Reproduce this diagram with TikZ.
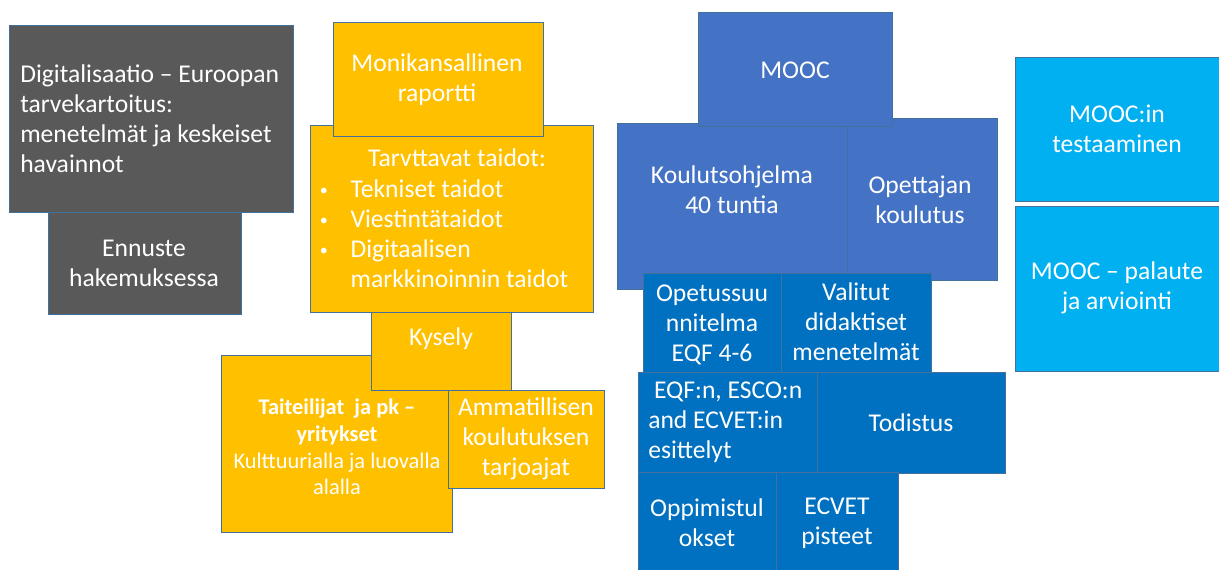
\documentclass[tikz,border=0pt]{standalone}
\usepackage{fontspec}
\setmainfont{Carlito}
\definecolor{darkgrey}{HTML}{595959}
\definecolor{gold}{HTML}{FFC000}
\definecolor{midblue}{HTML}{4472C4}
\definecolor{deepblue}{HTML}{0070C0}
\definecolor{skyblue}{HTML}{00B0F0}
\definecolor{edge}{HTML}{41719C}
\newcommand{\dotitem}{\makebox[25pt][l]{\hspace{2pt}\raisebox{0.15ex}{\fontsize{12}{12}\selectfont •}}}
\tikzset{
  box/.style={draw=edge, line width=0.6pt},
  txt/.style={text=white, inner sep=0pt, align=center, font=\fontsize{19.2}{22.5}\selectfont},
  smalltxt/.style={txt, font=\fontsize{16.8}{20}\selectfont},
}

\begin{document}
\begin{tikzpicture}[x=0.75pt,y=-0.75pt]
\useasboundingbox (0,0) rectangle (1219,570);
\fill[white] (0,0) rectangle (1219,570);

\filldraw[box, fill=darkgrey] (48,212) rectangle (241,314);
\node[txt] (ennuste) at (144,263) {Ennuste\\hakemuksessa};
\filldraw[box, fill=darkgrey] (9,25) rectangle (293,212);
\node[txt, anchor=west, align=left] (digi) at (20,119) {Digitalisaatio -- Euroopan\\tarvekartoitus:\\menetelmät ja keskeiset\\havainnot};

\filldraw[box, fill=gold] (310,125) rectangle (593,312);
\node[txt] (taidot) at (457,158) {Tarvttavat taidot:};
\node[txt, anchor=west, align=left] (lista) at (317,234) {\dotitem Tekniset taidot\\\dotitem Viestintätaidot\\\dotitem Digitaalisen\\\makebox[25pt][l]{}markkinoinnin taidot};
\filldraw[box, fill=gold] (333,22) rectangle (543,136);
\node[txt] (raportti) at (437,80) {Monikansallinen\\raportti};
\filldraw[box, fill=gold] (221,355) rectangle (452,532);
\node[smalltxt] (taiteilijat) at (337,447) {\textbf{Taiteilijat\ \ ja pk --}\\\textbf{yritykset}\\Kulttuurialla ja luovalla\\alalla};
\filldraw[box, fill=gold] (371,312) rectangle (511,390);
\node[txt] (kysely) at (441,339) {Kysely};
\filldraw[box, fill=gold] (448,390) rectangle (604,488);
\node[txt] (ammat) at (526,439) {Ammatillisen\\koulutuksen\\tarjoajat};

\filldraw[box, fill=midblue] (617,123) rectangle (847,289);
\node[txt] (ohjelma) at (732,190) {Koulutsohjelma\\40 tuntia};
\filldraw[box, fill=midblue] (847,118) rectangle (997,280);
\node[txt] (opettaja) at (920,200) {Opettajan\\koulutus};
\filldraw[box, fill=midblue] (698,12) rectangle (892,126);
\node[txt] (mooc) at (795,70) {MOOC};

\filldraw[box, fill=deepblue] (643,273) rectangle (781,372);
\node[txt] (suunnitelma) at (712,325) {Opetussuu\\nnitelma\\EQF 4-6};
\filldraw[box, fill=deepblue] (781,273) rectangle (931,372);
\node[txt] (didaktiset) at (856,322) {Valitut\\didaktiset\\menetelmät};
\filldraw[box, fill=deepblue] (638,372) rectangle (817,472);
\node[txt, anchor=west, align=left] (esittelyt) at (648,422) {\ EQF:n, ESCO:n\\and ECVET:in\\esittelyt};
\filldraw[box, fill=deepblue] (817,372) rectangle (1005,473);
\node[txt] (todistus) at (911,423) {Todistus};
\filldraw[box, fill=deepblue] (638,472) rectangle (776,575);
\node[txt] (tulokset) at (707,523) {Oppimistul\\okset};
\filldraw[box, fill=deepblue] (776,472) rectangle (898,575);
\node[txt] (pisteet) at (837,523) {ECVET\\pisteet};

\filldraw[box, fill=skyblue] (1015,57) rectangle (1222,201);
\node[txt] (testaus) at (1117,129) {MOOC:in\\testaaminen};
\filldraw[box, fill=skyblue] (1015,206) rectangle (1222,371);
\node[txt] (palaute) at (1117,288) {MOOC -- palaute\\ja arviointi};
\end{tikzpicture}
\end{document}
